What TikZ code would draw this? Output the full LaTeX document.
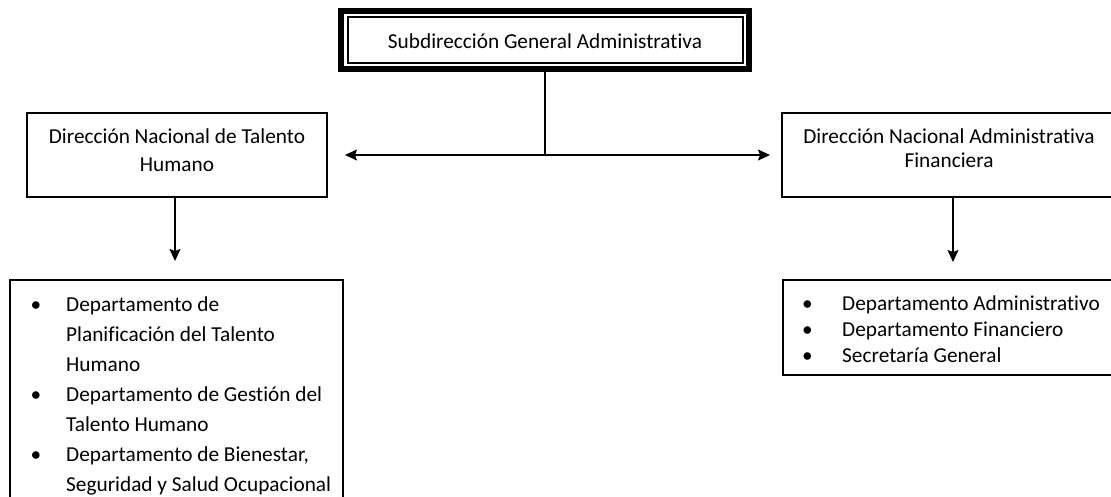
\documentclass[tikz,border=0pt]{standalone}
\usepackage{fontspec}
\setmainfont{Carlito}[Ligatures=NoCommon]
\usetikzlibrary{arrows.meta}
\begin{document}
\begin{tikzpicture}[x=1pt,y=-1pt,
  box/.style={draw=black, line width=1.3pt, rectangle, inner sep=0pt, outer sep=0pt},
  lbl/.style={font=\fontsize{21.3}{25}\selectfont, inner sep=0pt, anchor=base},
  itm/.style={font=\fontsize{21.3}{25}\selectfont, inner sep=0pt, anchor=base west},
  bul/.style={font=\fontsize{21.3}{25}\selectfont, inner sep=0pt, anchor=base},
  conn/.style={line width=1.3pt},
  arr/.style={line width=1.3pt, -{Stealth[length=12pt,width=11pt,inset=2pt]}},
]
\useasboundingbox (0,0) rectangle (1111,496);
\clip (0,0) rectangle (1111,496);
\fill[white] (0,0) rectangle (1111,496);

% top box with double frame
\node[draw=black, line width=5.5pt, minimum width=408pt, minimum height=58pt, inner sep=0pt, outer sep=0pt] (sga) at (545,40) {};
\draw[line width=1.3pt] ([shift={(7pt,-6pt)}]sga.north west) rectangle ([shift={(-6pt,6pt)}]sga.south east);
\node[lbl] (sgat) at (545,48) {Subdirección General Administrativa};

% second level
\node[box, minimum width=300pt, minimum height=84pt] (dnth) at (177,155) {};
\node[lbl] (dnth1) at (177,143) {Dirección Nacional de Talento};
\node[lbl] (dnth2) at (177,171.5) {Humano};

\node[box, minimum width=338pt, minimum height=84pt] (dnaf) at (951,155) {};
\node[lbl] (dnaf1) at (949,143) {Dirección Nacional Administrativa};
\node[lbl] (dnaf2) at (949,167.5) {Financiera};

% third level
\node[box, minimum width=333pt, minimum height=260pt] (dl) at (176.5,410) {};
\node[bul] (b1) at (36,311) {•};
\node[itm] (l1) at (66,311) {Departamento de};
\node[itm] (l2) at (66,341) {Planificación del Talento};
\node[itm] (l3) at (66,371) {Humano};
\node[bul] (b2) at (36,401) {•};
\node[itm] (l4) at (66,401) {Departamento de Gestión del};
\node[itm] (l5) at (66,431) {Talento Humano};
\node[bul] (b3) at (36,461) {•};
\node[itm] (l6) at (66,461) {Departamento de Bienestar,};
\node[itm] (l7) at (66,491) {Seguridad y Salud Ocupacional};

\node[box, minimum width=337pt, minimum height=95pt] (dr) at (951.5,327.5) {};
\node[bul] (c1) at (807.5,310.5) {•};
\node[itm] (r1) at (842,310.5) {Departamento Administrativo};
\node[bul] (c2) at (807.5,336.5) {•};
\node[itm] (r2) at (842,336.5) {Departamento Financiero};
\node[bul] (c3) at (807.5,362.5) {•};
\node[itm] (r3) at (842,362.5) {Secretaría General};

% connectors
\coordinate (j) at (sga.south |- dnth.east);
\draw[conn] (sga.south) -- (j);
\draw[arr, shorten >=18pt] (j) -- (dnth.east);
\draw[arr, shorten >=12pt] (j) -- (dnaf.west);
\draw[arr, shorten >=19pt] ([xshift=-2pt]dnth.south) -- ([xshift=-2pt]dnth.south |- dl.north);
\draw[arr, shorten >=18pt] ([xshift=2pt]dnaf.south) -- ([xshift=2pt]dnaf.south |- dr.north);
\end{tikzpicture}
\end{document}
